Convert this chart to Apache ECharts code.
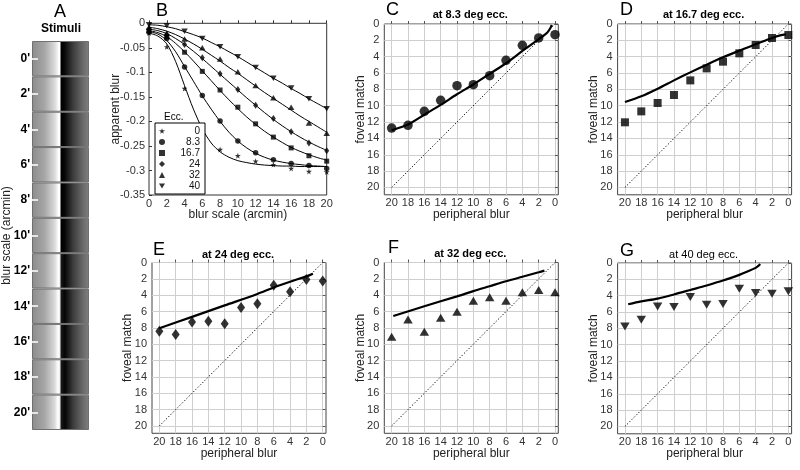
<!DOCTYPE html>
<html><head><meta charset="utf-8">
<script src="https://cdn.jsdelivr.net/npm/echarts@6/dist/echarts.min.js"></script>
<style>html,body{margin:0;padding:0;background:#fff}#c{width:800px;height:470px}</style>
</head><body><div id="c"></div>
<script>
// ---------- data ----------
const blurScales = [0, 2, 4, 6, 8, 10, 12, 14, 16, 18, 20];
const stimulusLabels = ["0'", "2'", "4'", "6'", "8'", "10'", "12'", "14'", "16'", "18'", "20'"];
const eccLabels = ['0', '8.3', '16.7', '24', '32', '40'];
const fitX = [0,1,2,3,4,5,6,7,8,9,10,11,12,13,14,15,16,17,18,19,20];

// Panel B: apparent blur (points at blurScales)
const apparentEcc0  = [-0.020,-0.048,-0.133,-0.215,-0.257,-0.270,-0.281,-0.288,-0.296,-0.302,-0.303];
const apparentEcc8  = [-0.018,-0.031,-0.089,-0.147,-0.199,-0.240,-0.264,-0.278,-0.286,-0.290,-0.296];
const apparentEcc17 = [-0.015,-0.028,-0.059,-0.098,-0.136,-0.171,-0.205,-0.232,-0.254,-0.270,-0.281];
const apparentEcc24 = [-0.012,-0.024,-0.043,-0.070,-0.103,-0.135,-0.167,-0.194,-0.221,-0.244,-0.260];
const apparentEcc32 = [-0.008,-0.020,-0.032,-0.050,-0.073,-0.099,-0.127,-0.152,-0.171,-0.203,-0.224];
const apparentEcc40 = [-0.003,-0.005,-0.016,-0.031,-0.048,-0.068,-0.090,-0.112,-0.132,-0.154,-0.174];
// Panel B: fitted curves (at fitX)
const fitEcc0  = [-0.020,-0.026,-0.042,-0.078,-0.127,-0.175,-0.215,-0.244,-0.262,-0.273,-0.280,-0.284,-0.287,-0.289,-0.290,-0.291,-0.291,-0.292,-0.292,-0.292,-0.292];
const fitEcc8  = [-0.017,-0.022,-0.035,-0.058,-0.088,-0.118,-0.148,-0.175,-0.200,-0.222,-0.240,-0.254,-0.265,-0.273,-0.279,-0.283,-0.286,-0.288,-0.290,-0.291,-0.292];
const fitEcc17 = [-0.015,-0.019,-0.027,-0.041,-0.058,-0.077,-0.097,-0.117,-0.137,-0.156,-0.174,-0.191,-0.206,-0.220,-0.232,-0.243,-0.253,-0.261,-0.268,-0.274,-0.279];
const fitEcc24 = [-0.012,-0.015,-0.021,-0.031,-0.043,-0.057,-0.072,-0.088,-0.104,-0.120,-0.136,-0.152,-0.167,-0.182,-0.196,-0.209,-0.221,-0.232,-0.242,-0.251,-0.259];
const fitEcc32 = [-0.008,-0.011,-0.016,-0.023,-0.032,-0.042,-0.053,-0.065,-0.077,-0.090,-0.102,-0.115,-0.128,-0.141,-0.153,-0.165,-0.177,-0.189,-0.200,-0.211,-0.222];
const fitEcc40 = [-0.003,-0.004,-0.007,-0.011,-0.017,-0.023,-0.030,-0.039,-0.048,-0.058,-0.068,-0.079,-0.090,-0.101,-0.112,-0.122,-0.133,-0.143,-0.154,-0.164,-0.174];

// Panels C-G: foveal match vs peripheral blur
const periphBlur = [20, 18, 16, 14, 12, 10, 8, 6, 4, 2, 0];
const periphTicks = [20, 18, 16, 14, 12, 10, 8, 6, 4, 2, 0];
const fovealTicks = [0, 2, 4, 6, 8, 10, 12, 14, 16, 18, 20];
const matchC = [12.73, 12.4, 10.69, 9.34, 7.55, 7.43, 6.32, 4.45, 2.61, 1.71, 1.31];
const matchD = [12.03, 10.69, 9.67, 8.69, 6.9, 5.43, 4.61, 3.59, 2.57, 1.71, 1.35];
const matchE = [8.41, 8.81, 7.27, 7.19, 7.51, 5.51, 5.06, 2.78, 3.59, 2.08, 2.25];
const matchF = [9.1, 6.96, 8.47, 6.75, 6.02, 4.67, 4.26, 4.67, 3.65, 3.37, 3.65];
const matchG = [7.76, 6.94, 5.31, 5.39, 4.16, 5.1, 5.02, 3.14, 3.68, 3.76, 3.47];
const fitC = [[20,13.0],[18,12.3],[16,11.1],[14,9.9],[12,8.6],[10,7.4],[8,6.1],[6,4.8],[4,3.3],[2,1.85],[1,1.1],[0.6,0.55],[0.4,0.1]];
const fitD = [[20,9.55],[18,8.85],[16,7.92],[14,6.9],[12,5.92],[10,4.98],[8,4.08],[6,3.26],[4,2.49],[2,1.71],[1,1.39],[0.3,1.27]];
const fitE = [[20,8.05],[16,6.65],[12,5.25],[8,3.85],[6,3.05],[4,2.35],[2,1.7],[1.2,1.38]];
const fitF = [[19.8,6.55],[16,5.35],[12,4.15],[10,3.5],[8,2.9],[6,2.3],[4,1.75],[2,1.2],[1.3,1.0]];
const fitG = [[19.6,5.05],[18,4.7],[16,4.35],[14,3.85],[12,3.3],[10,2.75],[8,2.15],[6,1.45],[5,1.05],[4,0.6],[3.6,0.3],[3.45,0.12]];
const identityLine = [[20,20],[0,0]];
const panelTitles = ['at 8.3 deg ecc.', 'at 16.7 deg ecc.', 'at 24 deg ecc.', 'at 32 deg ecc.', 'at 40 deg ecc.'];
const panelLetters = ['C', 'D', 'E', 'F', 'G'];

// ---------- styling / layout ----------
const FONT = '"Liberation Sans", Arial, Helvetica, sans-serif';
const STAR = 'path://M50,0 L61,35 L98,35 L68,57 L79,91 L50,70 L21,91 L32,57 L2,35 L39,35 Z';
const DTRI = 'path://M0,0 L100,0 L50,87 Z';
const bSymbols = [STAR, 'circle', 'rect', 'diamond', 'triangle', DTRI];
const bSizes = [[6,6], 5.5, 5, [5,7], [6.5,5.5], [6.5,5.5]];
const bPoints = [apparentEcc0, apparentEcc8, apparentEcc17, apparentEcc24, apparentEcc32, apparentEcc40];
const bFits = [fitEcc0, fitEcc8, fitEcc17, fitEcc24, fitEcc32, fitEcc40];

const matchSets = [matchC, matchD, matchE, matchF, matchG];
const fitSets = [fitC, fitD, fitE, fitF, fitG];
const matchSymbols = ['circle', 'rect', 'diamond', 'triangle', DTRI];
const matchSizes = [9.5, 8, [8, 11], [9.5, 8], [9.5, 8]];
const panelBoxes = [
  {left: 384.3, top: 24},
  {left: 617.6, top: 24},
  {left: 152, top: 262.5},
  {left: 384.3, top: 262.5},
  {left: 617.6, top: 263}
];
const PW = 174, PH = 170.8;

function stripGradient(b) {
  const s = b / 20;
  return new echarts.graphic.LinearGradient(0, 0, 1, 0, [
    {offset: 0, color: '#8c8c8c'},
    {offset: 0.22, color: '#a6a6a6'},
    {offset: 0.40, color: '#dadada'},
    {offset: 0.475 - 0.02 * s, color: '#ffffff'},
    {offset: 0.495, color: s > 0.5 ? '#e8e8e8' : '#ffffff'},
    {offset: 0.505, color: s > 0.5 ? '#1a1a1a' : '#000000'},
    {offset: 0.56 + 0.02 * s, color: '#050505'},
    {offset: 0.72, color: '#3c3c3c'},
    {offset: 0.88, color: '#666666'},
    {offset: 1, color: '#808080'}
  ]);
}

const grids = [
  {left: 32, top: 41, width: 57, height: 389},
  {left: 149, top: 23.3, width: 177.7, height: 171.7, show: true, borderColor: '#333', borderWidth: 1}
];
panelBoxes.forEach(p => grids.push({left: p.left, top: p.top, width: PW, height: PH, show: true, borderColor: '#444', borderWidth: 1}));

const xAxes = [
  {gridIndex: 0, type: 'value', min: 0, max: 1, show: false},
  {gridIndex: 1, type: 'value', min: 0, max: 20, interval: 2,
   axisLine: {show: false}, splitLine: {show: false},
   axisTick: {show: true, inside: true, length: 3, lineStyle: {color: '#333'}},
   axisLabel: {fontSize: 11, color: '#333', margin: 3, fontFamily: FONT},
   name: 'blur scale (arcmin)', nameLocation: 'middle', nameGap: 14, nameMoveOverlap: false,
   nameTextStyle: {fontSize: 12, color: '#222', fontFamily: FONT, verticalAlign: 'top'}}
];
const yAxes = [
  {gridIndex: 0, type: 'category', inverse: true, data: stimulusLabels, z: 10,
   axisLine: {show: false},
   axisTick: {show: true, inside: true, alignWithLabel: true, length: 6, lineStyle: {color: '#e6e6e6', width: 2}},
   axisLabel: {fontSize: 12, fontWeight: 'bold', color: '#000', margin: 2, fontFamily: FONT},
   name: 'blur scale (arcmin)', nameLocation: 'middle', nameGap: 19, nameMoveOverlap: false,
   nameTextStyle: {fontSize: 12, color: '#222', fontFamily: FONT}},
  {gridIndex: 1, type: 'value', min: -0.35, max: 0, interval: 0.05,
   axisLine: {show: false}, splitLine: {show: false},
   axisTick: {show: true, inside: true, length: 3, lineStyle: {color: '#333'}},
   axisLabel: {fontSize: 11, color: '#333', margin: 4, fontFamily: FONT,
     formatter: v => (Math.abs(v) < 1e-9 ? '0' : String(+v.toFixed(2)))},
   name: 'apparent blur', nameLocation: 'middle', nameGap: 27, nameMoveOverlap: false,
   nameTextStyle: {fontSize: 12, color: '#222', fontFamily: FONT}}
];
panelBoxes.forEach((p, k) => {
  const gi = k + 2;
  xAxes.push({gridIndex: gi, type: 'value', inverse: true, min: -0.4, max: 20.9,
    axisLine: {show: false},
    axisTick: {show: true, inside: true, length: 3, customValues: periphTicks, lineStyle: {color: '#555'}},
    axisLabel: {customValues: periphTicks, fontSize: 11, color: '#333', margin: 3, fontFamily: FONT},
    splitLine: {show: true, lineStyle: {color: '#cfcfcf', width: 1}},
    name: 'peripheral blur', nameLocation: 'middle', nameGap: 14, nameMoveOverlap: false,
    nameTextStyle: {fontSize: 12, color: '#222', fontFamily: FONT, verticalAlign: 'top'}});
  yAxes.push({gridIndex: gi, type: 'value', inverse: true, min: 0, max: 20.9,
    axisLine: {show: false},
    axisTick: {show: true, inside: true, length: 3, customValues: fovealTicks, lineStyle: {color: '#555'}},
    axisLabel: {customValues: fovealTicks, fontSize: 11, color: '#333', margin: 5, fontFamily: FONT},
    splitLine: {show: true, lineStyle: {color: '#cfcfcf', width: 1}},
    name: 'foveal match', nameLocation: 'middle', nameGap: 18, nameMoveOverlap: false,
    nameTextStyle: {fontSize: 12, color: '#222', fontFamily: FONT}});
});

const series = [];
// Panel A: stimulus strip
series.push({type: 'bar', xAxisIndex: 0, yAxisIndex: 0, barCategoryGap: '0%', silent: true,
  itemStyle: {borderColor: '#707070', borderWidth: 1},
  data: blurScales.map(b => ({value: 1, itemStyle: {color: stripGradient(b)}}))});
// Panel B
eccLabels.forEach((name, i) => {
  series.push({type: 'line', xAxisIndex: 1, yAxisIndex: 1, name: 'fit ' + name, symbol: 'none',
    smooth: 0.3, lineStyle: {color: '#000', width: 1}, z: 2,
    data: fitX.map((x, j) => [x, bFits[i][j]])});
  series.push({type: 'scatter', xAxisIndex: 1, yAxisIndex: 1, name: name, symbol: bSymbols[i],
    symbolSize: bSizes[i], itemStyle: {color: '#000'}, z: 3,
    data: blurScales.map((x, j) => [x, bPoints[i][j]])});
});
// Panels C-G
matchSets.forEach((m, k) => {
  const ai = k + 2;
  series.push({type: 'line', xAxisIndex: ai, yAxisIndex: ai, symbol: 'none', z: 2,
    lineStyle: {color: '#000', width: 1, type: [1.2, 2]}, data: identityLine});
  series.push({type: 'line', xAxisIndex: ai, yAxisIndex: ai, symbol: 'none', smooth: 0.3, z: 3,
    lineStyle: {color: '#000', width: 2.2}, data: fitSets[k]});
  series.push({type: 'scatter', xAxisIndex: ai, yAxisIndex: ai, symbol: matchSymbols[k],
    symbolSize: matchSizes[k], itemStyle: {color: '#000'}, z: 4,
    data: periphBlur.map((x, j) => [x, m[j]])});
});

function txt(x, y, text, font, align) {
  return {type: 'text', x: x, y: y, silent: true, z: 20,
    style: {text: text, font: font, fill: '#000', align: align || 'center', textAlign: align || 'center',
      verticalAlign: 'middle', textVerticalAlign: 'middle'}};
}
const graphics = [
  txt(60, 12, 'A', '18px ' + FONT),
  txt(61, 29, 'Stimuli', 'bold 12px ' + FONT),
  txt(156, 11, 'B', '18px ' + FONT, 'left'),
  txt(164, 117, 'Ecc.', '10px ' + FONT, 'left')
];
const letterPos = [[386, 10], [620, 10], [153, 250], [388, 248], [620, 251]];
const titleY = [15, 15, 255, 254, 255];
panelBoxes.forEach((p, k) => {
  graphics.push(txt(letterPos[k][0], letterPos[k][1], panelLetters[k], '18px ' + FONT, 'left'));
  graphics.push(txt(p.left + PW / 2 - 1, titleY[k], panelTitles[k], (k === 4 ? '' : 'bold ') + '11px ' + FONT));
});

const chart = echarts.init(document.getElementById('c'), null, {renderer: 'canvas'});
chart.setOption({
  animation: false,
  backgroundColor: '#fff',
  textStyle: {fontFamily: FONT},
  grid: grids,
  xAxis: xAxes,
  yAxis: yAxes,
  legend: {
    data: eccLabels.map((n, i) => ({name: n, icon: bSymbols[i]})),
    orient: 'vertical', left: 155, top: 123, itemWidth: 6, itemHeight: 6, itemGap: 1,
    padding: [3, 5, 3, 4], borderColor: '#000', borderWidth: 1, backgroundColor: '#fff',
    selectedMode: false,
    formatter: n => '{r|' + n + '}',
    textStyle: {fontSize: 10, color: '#111', rich: {r: {width: 30, align: 'right', fontSize: 10, lineHeight: 10}}},
    itemStyle: {color: '#000'}
  },
  graphic: graphics,
  series: series
});
</script>
</body></html>
